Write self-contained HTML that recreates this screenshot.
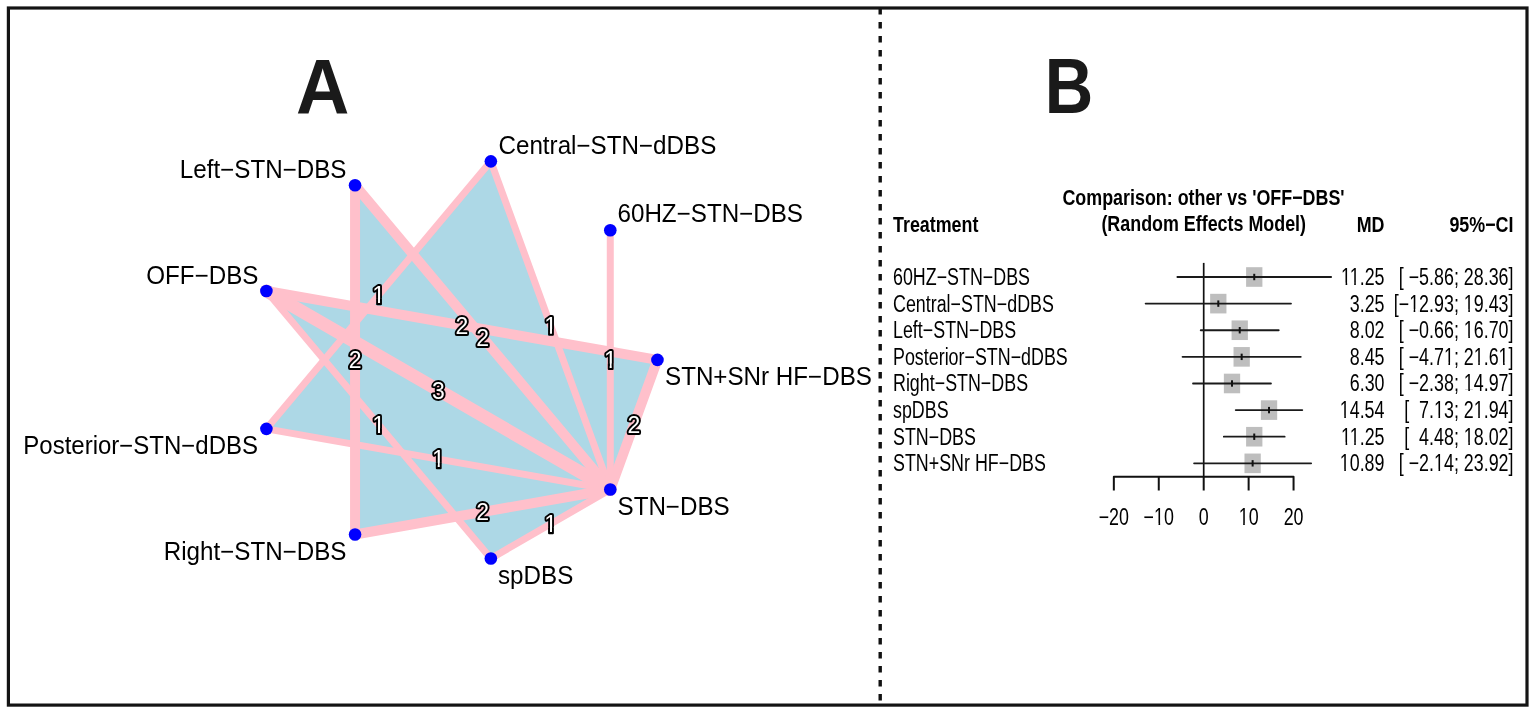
<!DOCTYPE html>
<html><head><meta charset="utf-8"><title>Network meta-analysis</title>
<style>
html,body{margin:0;padding:0;background:#fff;}
body{width:1535px;height:713px;overflow:hidden;}
svg{display:block;}
text{font-family:"Liberation Sans",Arial,Helvetica,sans-serif;fill:#000;}
.nl{font-size:24.2px;}
.el{font-size:23px;text-anchor:middle;fill:#fff;stroke:#000;stroke-width:3.8px;paint-order:stroke;stroke-linejoin:round;}
.tb{font-size:22.3px;}
.tbb{font-size:22.3px;font-weight:bold;}
.big{font-size:77.4px;font-weight:bold;fill:#1a1a1a;}
</style></head>
<body>
<svg width="1535" height="713" viewBox="0 0 1535 713">
<rect x="0" y="0" width="1535" height="713" fill="#fff"/>
<defs><clipPath id="c1_0"><rect x="595.28" y="328.2" width="30" height="35.28"/><rect x="609.67" y="362.58" width="2.03" height="5.62"/></clipPath><clipPath id="c1_1"><rect x="535.57" y="293.72" width="30" height="35.28"/><rect x="549.96" y="328.11" width="2.03" height="5.62"/></clipPath><clipPath id="c1_2"><rect x="363.63" y="263.41" width="30" height="35.28"/><rect x="378.02" y="297.79" width="2.03" height="5.62"/></clipPath><clipPath id="c1_7"><rect x="363.63" y="392.99" width="30" height="35.28"/><rect x="378.02" y="427.37" width="2.03" height="5.62"/></clipPath><clipPath id="c1_8"><rect x="423.35" y="427.47" width="30" height="35.28"/><rect x="437.73" y="461.85" width="2.03" height="5.62"/></clipPath><clipPath id="c1_10"><rect x="535.57" y="492.26" width="30" height="35.28"/><rect x="549.96" y="526.64" width="2.03" height="5.62"/></clipPath><clipPath id="cb1"><path clip-rule="evenodd" d="M-400 -60H400V60H-400ZM-53.09 -2.12H-48.51V0.9H-53.09ZM-46.5 -2.12H-37.77V0.9H-46.5ZM-35.76 -2.12H-31.35V0.9H-35.76Z"/></clipPath><clipPath id="cb5"><path clip-rule="evenodd" d="M-400 -60H400V60H-400ZM-129.08 -2.12H-124.49V0.9H-129.08ZM-122.48 -2.12H-118.06V0.9H-122.48ZM-60.97 -2.12H-56.38V0.9H-60.97ZM-54.37 -2.12H-49.95V0.9H-54.37Z"/></clipPath><clipPath id="cb8"><path clip-rule="evenodd" d="M-400 -60H400V60H-400ZM-60.95 -2.12H-56.36V0.9H-60.95ZM-54.35 -2.12H-49.94V0.9H-54.35Z"/></clipPath><clipPath id="cb11"><path clip-rule="evenodd" d="M-400 -60H400V60H-400ZM-85.72 -2.12H-81.13V0.9H-85.72ZM-79.12 -2.12H-74.7V0.9H-79.12ZM-48.57 -2.12H-43.98V0.9H-48.57ZM-41.97 -2.12H-37.55V0.9H-41.97ZM-17.59 -2.12H-13V0.9H-17.59ZM-10.99 -2.12H-6.58V0.9H-10.99Z"/></clipPath><clipPath id="cb14"><path clip-rule="evenodd" d="M-400 -60H400V60H-400ZM-60.95 -2.12H-56.36V0.9H-60.95ZM-54.35 -2.12H-49.94V0.9H-54.35Z"/></clipPath><clipPath id="cb16"><path clip-rule="evenodd" d="M-400 -60H400V60H-400ZM-54.76 -2.12H-50.17V0.9H-54.76ZM-48.16 -2.12H-43.75V0.9H-48.16Z"/></clipPath><clipPath id="cb17"><path clip-rule="evenodd" d="M-400 -60H400V60H-400ZM-98.12 -2.12H-93.53V0.9H-98.12ZM-91.52 -2.12H-87.11V0.9H-91.52ZM-48.57 -2.12H-43.98V0.9H-48.57ZM-41.97 -2.12H-37.55V0.9H-41.97Z"/></clipPath><clipPath id="cb19"><path clip-rule="evenodd" d="M-400 -60H400V60H-400ZM-53.09 -2.12H-48.51V0.9H-53.09ZM-46.5 -2.12H-37.77V0.9H-46.5ZM-35.76 -2.12H-31.35V0.9H-35.76Z"/></clipPath><clipPath id="cb20"><path clip-rule="evenodd" d="M-400 -60H400V60H-400ZM-60.95 -2.12H-56.36V0.9H-60.95ZM-54.35 -2.12H-49.94V0.9H-54.35Z"/></clipPath><clipPath id="cb22"><path clip-rule="evenodd" d="M-400 -60H400V60H-400ZM-54.76 -2.12H-50.17V0.9H-54.76ZM-48.16 -2.12H-43.75V0.9H-48.16Z"/></clipPath><clipPath id="cb23"><path clip-rule="evenodd" d="M-400 -60H400V60H-400ZM-98.1 -2.12H-93.51V0.9H-98.1ZM-91.5 -2.12H-87.09V0.9H-91.5Z"/></clipPath><clipPath id="cb25"><path clip-rule="evenodd" d="M-400 -60H400V60H-400ZM-4.89 -2.12H-0.3V0.9H-4.89ZM1.71 -2.12H6.12V0.9H1.71Z"/></clipPath><clipPath id="cb27"><path clip-rule="evenodd" d="M-400 -60H400V60H-400ZM-11.39 -2.12H-6.8V0.9H-11.39ZM-4.79 -2.12H-0.38V0.9H-4.79Z"/></clipPath></defs>
<g id="panelA">
<text transform="translate(322.6,113.8) scale(0.955,1)" text-anchor="middle" class="big">A</text>
<polygon points="490.86,161.36 266.41,428.85 610.28,489.49" fill="#ADD8E6"/>
<polygon points="355.05,185.31 355.05,534.49 610.28,489.49" fill="#ADD8E6"/>
<polygon points="266.41,290.95 657.45,359.9 610.28,489.49" fill="#ADD8E6"/>
<polygon points="266.41,290.95 490.86,558.44 610.28,489.49" fill="#ADD8E6"/>
<line x1="610.28" y1="230.31" x2="610.28" y2="489.49" stroke="#FFC0CB" stroke-width="7" stroke-linecap="round"/>
<line x1="490.86" y1="161.36" x2="610.28" y2="489.49" stroke="#FFC0CB" stroke-width="7" stroke-linecap="round"/>
<line x1="490.86" y1="161.36" x2="266.41" y2="428.85" stroke="#FFC0CB" stroke-width="7" stroke-linecap="round"/>
<line x1="355.05" y1="185.31" x2="355.05" y2="534.49" stroke="#FFC0CB" stroke-width="10" stroke-linecap="round"/>
<line x1="355.05" y1="185.31" x2="610.28" y2="489.49" stroke="#FFC0CB" stroke-width="10" stroke-linecap="round"/>
<line x1="266.41" y1="290.95" x2="657.45" y2="359.9" stroke="#FFC0CB" stroke-width="10" stroke-linecap="round"/>
<line x1="266.41" y1="290.95" x2="610.28" y2="489.49" stroke="#FFC0CB" stroke-width="13" stroke-linecap="round"/>
<line x1="266.41" y1="290.95" x2="490.86" y2="558.44" stroke="#FFC0CB" stroke-width="7" stroke-linecap="round"/>
<line x1="266.41" y1="428.85" x2="610.28" y2="489.49" stroke="#FFC0CB" stroke-width="7" stroke-linecap="round"/>
<line x1="355.05" y1="534.49" x2="610.28" y2="489.49" stroke="#FFC0CB" stroke-width="10" stroke-linecap="round"/>
<line x1="490.86" y1="558.44" x2="610.28" y2="489.49" stroke="#FFC0CB" stroke-width="7" stroke-linecap="round"/>
<line x1="657.45" y1="359.9" x2="610.28" y2="489.49" stroke="#FFC0CB" stroke-width="10" stroke-linecap="round"/>
<circle cx="657.45" cy="359.9" r="6.3" fill="#0000FF"/>
<circle cx="610.28" cy="230.31" r="6.3" fill="#0000FF"/>
<circle cx="490.86" cy="161.36" r="6.3" fill="#0000FF"/>
<circle cx="355.05" cy="185.31" r="6.3" fill="#0000FF"/>
<circle cx="266.41" cy="290.95" r="6.3" fill="#0000FF"/>
<circle cx="266.41" cy="428.85" r="6.3" fill="#0000FF"/>
<circle cx="355.05" cy="534.49" r="6.3" fill="#0000FF"/>
<circle cx="490.86" cy="558.44" r="6.3" fill="#0000FF"/>
<circle cx="610.28" cy="489.49" r="6.3" fill="#0000FF"/>
<text transform="translate(346.5,177.8) scale(1,1.05)" text-anchor="end" class="nl">Left−STN−DBS</text>
<text transform="translate(498.5,154.3) scale(1,1.05)" text-anchor="start" class="nl">Central−STN−dDBS</text>
<text transform="translate(617.5,222.3) scale(1,1.05)" text-anchor="start" class="nl">60HZ−STN−DBS</text>
<text transform="translate(665,384.8) scale(1,1.05)" text-anchor="start" class="nl">STN+SNr HF−DBS</text>
<text transform="translate(617.5,514.6) scale(1,1.05)" text-anchor="start" class="nl">STN−DBS</text>
<text transform="translate(498,583.9) scale(1,1.05)" text-anchor="start" class="nl">spDBS</text>
<text transform="translate(346.5,559.7) scale(1,1.05)" text-anchor="end" class="nl">Right−STN−DBS</text>
<text transform="translate(258,453.9) scale(0.992,1.05)" text-anchor="end" class="nl">Posterior−STN−dDBS</text>
<text transform="translate(258.5,283.7) scale(1,1.05)" text-anchor="end" class="nl">OFF−DBS</text>
<rect x="607.77" y="362.98" width="5.83" height="7.12" rx="1" fill="#000"/>
<text x="610.28" y="368.2" class="el" clip-path="url(#c1_0)">1</text>
<rect x="548.06" y="328.51" width="5.83" height="7.12" rx="1" fill="#000"/>
<text x="550.57" y="333.72" class="el" clip-path="url(#c1_1)">1</text>
<rect x="376.12" y="298.19" width="5.83" height="7.12" rx="1" fill="#000"/>
<text x="378.63" y="303.41" class="el" clip-path="url(#c1_2)">1</text>
<text x="355.05" y="368.2" class="el">2</text>
<text x="482.67" y="345.7" class="el">2</text>
<text x="461.93" y="333.72" class="el">2</text>
<text x="438.35" y="398.52" class="el">3</text>
<rect x="376.12" y="427.77" width="5.83" height="7.12" rx="1" fill="#000"/>
<text x="378.63" y="432.99" class="el" clip-path="url(#c1_7)">1</text>
<rect x="435.83" y="462.25" width="5.83" height="7.12" rx="1" fill="#000"/>
<text x="438.35" y="467.47" class="el" clip-path="url(#c1_8)">1</text>
<text x="482.67" y="520.29" class="el">2</text>
<rect x="548.06" y="527.04" width="5.83" height="7.12" rx="1" fill="#000"/>
<text x="550.57" y="532.26" class="el" clip-path="url(#c1_10)">1</text>
<text x="633.87" y="432.99" class="el">2</text>
</g>
<g id="panelB">
<text transform="translate(1069.1,113.2) scale(0.868,1)" text-anchor="middle" class="big">B</text>
<text transform="translate(893,231.8) scale(0.802,0.995)" text-anchor="start" class="tbb" xml:space="preserve">Treatment</text>
<text transform="translate(1203.5,204.8) scale(0.802,0.995)" text-anchor="middle" class="tbb" xml:space="preserve">Comparison: other vs 'OFF−DBS'</text>
<text transform="translate(1203.7,231.2) scale(0.802,0.995)" text-anchor="middle" class="tbb" xml:space="preserve">(Random Effects Model)</text>
<text transform="translate(1384.5,231.8) scale(0.802,0.995)" text-anchor="end" class="tbb" xml:space="preserve">MD</text>
<text transform="translate(1513.5,231.8) scale(0.802,0.995)" text-anchor="end" class="tbb" xml:space="preserve">95%−CI</text>
<line x1="1203.7" y1="262.9" x2="1203.7" y2="476.8" stroke="#111" stroke-width="1.7"/>
<text transform="translate(893,284.9) scale(0.802,1.04)" text-anchor="start" class="tb" xml:space="preserve">60HZ−STN−DBS</text>
<text transform="translate(1384.5,284.9) scale(0.802,1.04)" text-anchor="end" class="tb" xml:space="preserve" clip-path="url(#cb1)">11.25</text>
<text transform="translate(1513.5,284.9) scale(0.802,1.04)" text-anchor="end" class="tb" xml:space="preserve">[ −5.86; 28.36]</text>
<rect x="1246.1" y="267.2" width="16.3" height="19.6" fill="#BEBEBE"/>
<line x1="1177.37" y1="277" x2="1331.12" y2="277" stroke="#1a1a1a" stroke-width="1.8" stroke-linecap="round"/>
<line x1="1254.25" y1="273.8" x2="1254.25" y2="280.2" stroke="#111" stroke-width="2"/>
<text transform="translate(893,311.52) scale(0.802,1.04)" text-anchor="start" class="tb" xml:space="preserve">Central−STN−dDBS</text>
<text transform="translate(1384.5,311.52) scale(0.802,1.04)" text-anchor="end" class="tb" xml:space="preserve">3.25</text>
<text transform="translate(1513.5,311.52) scale(0.802,1.04)" text-anchor="end" class="tb" xml:space="preserve" clip-path="url(#cb5)">[−12.93; 19.43]</text>
<rect x="1210.15" y="293.82" width="16.3" height="19.6" fill="#BEBEBE"/>
<line x1="1145.61" y1="303.62" x2="1291" y2="303.62" stroke="#1a1a1a" stroke-width="1.8" stroke-linecap="round"/>
<line x1="1218.3" y1="300.42" x2="1218.3" y2="306.82" stroke="#111" stroke-width="2"/>
<text transform="translate(893,338.14) scale(0.802,1.04)" text-anchor="start" class="tb" xml:space="preserve">Left−STN−DBS</text>
<text transform="translate(1384.5,338.14) scale(0.802,1.04)" text-anchor="end" class="tb" xml:space="preserve">8.02</text>
<text transform="translate(1513.5,338.14) scale(0.802,1.04)" text-anchor="end" class="tb" xml:space="preserve" clip-path="url(#cb8)">[ −0.66; 16.70]</text>
<rect x="1231.58" y="320.44" width="16.3" height="19.6" fill="#BEBEBE"/>
<line x1="1200.73" y1="330.24" x2="1278.73" y2="330.24" stroke="#1a1a1a" stroke-width="1.8" stroke-linecap="round"/>
<line x1="1239.73" y1="327.04" x2="1239.73" y2="333.44" stroke="#111" stroke-width="2"/>
<text transform="translate(893,364.76) scale(0.802,1.04)" text-anchor="start" class="tb" xml:space="preserve">Posterior−STN−dDBS</text>
<text transform="translate(1384.5,364.76) scale(0.802,1.04)" text-anchor="end" class="tb" xml:space="preserve">8.45</text>
<text transform="translate(1513.5,364.76) scale(0.802,1.04)" text-anchor="end" class="tb" xml:space="preserve" clip-path="url(#cb11)">[ −4.71; 21.61]</text>
<rect x="1233.52" y="347.06" width="16.3" height="19.6" fill="#BEBEBE"/>
<line x1="1182.54" y1="356.86" x2="1300.79" y2="356.86" stroke="#1a1a1a" stroke-width="1.8" stroke-linecap="round"/>
<line x1="1241.67" y1="353.66" x2="1241.67" y2="360.06" stroke="#111" stroke-width="2"/>
<text transform="translate(893,391.38) scale(0.802,1.04)" text-anchor="start" class="tb" xml:space="preserve">Right−STN−DBS</text>
<text transform="translate(1384.5,391.38) scale(0.802,1.04)" text-anchor="end" class="tb" xml:space="preserve">6.30</text>
<text transform="translate(1513.5,391.38) scale(0.802,1.04)" text-anchor="end" class="tb" xml:space="preserve" clip-path="url(#cb14)">[ −2.38; 14.97]</text>
<rect x="1223.86" y="373.68" width="16.3" height="19.6" fill="#BEBEBE"/>
<line x1="1193.01" y1="383.48" x2="1270.96" y2="383.48" stroke="#1a1a1a" stroke-width="1.8" stroke-linecap="round"/>
<line x1="1232.01" y1="380.28" x2="1232.01" y2="386.68" stroke="#111" stroke-width="2"/>
<text transform="translate(893,418) scale(0.802,1.04)" text-anchor="start" class="tb" xml:space="preserve">spDBS</text>
<text transform="translate(1384.5,418) scale(0.802,1.04)" text-anchor="end" class="tb" xml:space="preserve" clip-path="url(#cb16)">14.54</text>
<text transform="translate(1513.5,418) scale(0.802,1.04)" text-anchor="end" class="tb" xml:space="preserve" clip-path="url(#cb17)">[  7.13; 21.94]</text>
<rect x="1260.88" y="400.3" width="16.3" height="19.6" fill="#BEBEBE"/>
<line x1="1235.74" y1="410.1" x2="1302.28" y2="410.1" stroke="#1a1a1a" stroke-width="1.8" stroke-linecap="round"/>
<line x1="1269.03" y1="406.9" x2="1269.03" y2="413.3" stroke="#111" stroke-width="2"/>
<text transform="translate(893,444.62) scale(0.802,1.04)" text-anchor="start" class="tb" xml:space="preserve">STN−DBS</text>
<text transform="translate(1384.5,444.62) scale(0.802,1.04)" text-anchor="end" class="tb" xml:space="preserve" clip-path="url(#cb19)">11.25</text>
<text transform="translate(1513.5,444.62) scale(0.802,1.04)" text-anchor="end" class="tb" xml:space="preserve" clip-path="url(#cb20)">[  4.48; 18.02]</text>
<rect x="1246.1" y="426.92" width="16.3" height="19.6" fill="#BEBEBE"/>
<line x1="1223.83" y1="436.72" x2="1284.66" y2="436.72" stroke="#1a1a1a" stroke-width="1.8" stroke-linecap="round"/>
<line x1="1254.25" y1="433.52" x2="1254.25" y2="439.92" stroke="#111" stroke-width="2"/>
<text transform="translate(893,471.24) scale(0.802,1.04)" text-anchor="start" class="tb" xml:space="preserve">STN+SNr HF−DBS</text>
<text transform="translate(1384.5,471.24) scale(0.802,1.04)" text-anchor="end" class="tb" xml:space="preserve" clip-path="url(#cb22)">10.89</text>
<text transform="translate(1513.5,471.24) scale(0.802,1.04)" text-anchor="end" class="tb" xml:space="preserve" clip-path="url(#cb23)">[ −2.14; 23.92]</text>
<rect x="1244.48" y="453.54" width="16.3" height="19.6" fill="#BEBEBE"/>
<line x1="1194.08" y1="463.34" x2="1311.17" y2="463.34" stroke="#1a1a1a" stroke-width="1.8" stroke-linecap="round"/>
<line x1="1252.63" y1="460.14" x2="1252.63" y2="466.54" stroke="#111" stroke-width="2"/>
<path d="M1113.84 490.5 V476.8 H1293.56 V490.5" stroke="#111" stroke-width="2" fill="none" stroke-linejoin="round"/>
<text transform="translate(1113.84,525.1) scale(0.802,1.04)" text-anchor="middle" class="tb" xml:space="preserve">−20</text>
<line x1="1158.77" y1="476.8" x2="1158.77" y2="490.5" stroke="#111" stroke-width="2"/>
<text transform="translate(1158.77,525.1) scale(0.802,1.04)" text-anchor="middle" class="tb" xml:space="preserve" clip-path="url(#cb25)">−10</text>
<line x1="1203.7" y1="476.8" x2="1203.7" y2="490.5" stroke="#111" stroke-width="2"/>
<text transform="translate(1203.7,525.1) scale(0.802,1.04)" text-anchor="middle" class="tb" xml:space="preserve">0</text>
<line x1="1248.63" y1="476.8" x2="1248.63" y2="490.5" stroke="#111" stroke-width="2"/>
<text transform="translate(1248.63,525.1) scale(0.802,1.04)" text-anchor="middle" class="tb" xml:space="preserve" clip-path="url(#cb27)">10</text>
<text transform="translate(1293.56,525.1) scale(0.802,1.04)" text-anchor="middle" class="tb" xml:space="preserve">20</text>
</g>
<line x1="880.2" y1="8" x2="880.2" y2="703" stroke="#111" stroke-width="3.4" stroke-dasharray="6.6 7.4"/>
<rect x="8.4" y="8" width="1518.6" height="697.1" fill="none" stroke="#141414" stroke-width="3.2"/>
</svg>
</body></html>
